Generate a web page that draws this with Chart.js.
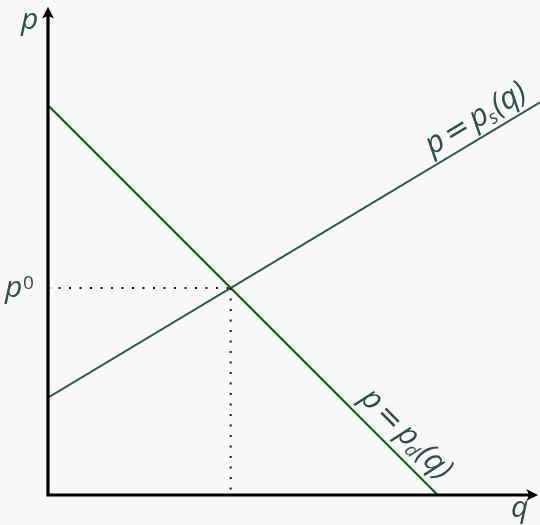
<!DOCTYPE html>
<html>
<head>
<meta charset="utf-8">
<script src="https://cdn.jsdelivr.net/npm/chart.js@4"></script>
<style>
  html, body { margin: 0; padding: 0; background: #f9f9f9; }
  #wrap { width: 540px; height: 525px; }
</style>
</head>
<body>
<div id="wrap"><canvas id="grafico"></canvas></div>
<script>
// curvas de oferta y demanda (unidades del eje)
const demandaQ = [0, 8];
const demandaP = [8, 0];
const ofertaQ = [0, 10.1];
const ofertaP = [2, 8.06];

// equilibrio
const equilibrioQ = 3.75;
const equilibrioP = 4.25;
const guiaHorizQ = [0, equilibrioQ];
const guiaHorizP = [equilibrioP, equilibrioP];
const guiaVertQ = [equilibrioQ, equilibrioQ];
const guiaVertP = [equilibrioP, 0];

const ejeQmax = 10.1;
const ejePmax = 10.16;

const colorTexto = '#2f4f4f';
const fuenteEje = 'italic 30px "Open Sans"';
const fuente = 'italic 31px "Open Sans"';
const fuenteIgual = '30px "DejaVu Sans"';
const fuenteSub = 'italic 19px "Open Sans"';

function puntos(qs, ps) {
    return qs.map((q, i) => ({ x: q, y: ps[i] }));
}

function flecha(ctx, x, y, ang) {
    ctx.save();
    ctx.translate(x, y);
    ctx.rotate(ang);
    ctx.beginPath();
    ctx.moveTo(0, 0);
    ctx.lineTo(-12, -6);
    ctx.quadraticCurveTo(-7, 0, -12, 6);
    ctx.closePath();
    ctx.fill();
    ctx.restore();
}

// texto con subindice a lo largo de una recta
function etiquetaRecta(ctx, partes, cx, cy, ang, offset) {
    ctx.save();
    ctx.translate(cx, cy);
    ctx.rotate(ang);
    let total = 0;
    partes.forEach(p => {
        ctx.font = p.f;
        total += ctx.measureText(p.t).width + (p.gap || 0);
    });
    let x = -total / 2;
    partes.forEach(p => {
        ctx.font = p.f;
        ctx.fillText(p.t, x, -offset + (p.dy || 0));
        x += ctx.measureText(p.t).width + (p.gap || 0);
    });
    ctx.restore();
}

function partesEtiqueta(sub) {
    return [
        { t: 'p', f: fuente, gap: 4 },
        { t: '=', f: fuenteIgual, gap: 4 },
        { t: 'p', f: fuente, gap: -1 },
        { t: sub, f: fuenteSub, dy: 5, gap: 1 },
        { t: '(q)', f: fuente }
    ];
}

const pluginEjes = {
    id: 'ejes',
    afterDatasetsDraw(chart) {
        const ctx = chart.ctx;
        const sx = chart.scales.x;
        const sy = chart.scales.y;
        const x0 = sx.getPixelForValue(0);
        const y0 = sy.getPixelForValue(0);
        const xFin = sx.getPixelForValue(10.06);
        const yFin = sy.getPixelForValue(10.02);

        ctx.save();
        ctx.strokeStyle = '#000';
        ctx.fillStyle = '#000';
        ctx.lineWidth = 3.2;
        ctx.beginPath();
        ctx.moveTo(x0, y0);
        ctx.lineTo(xFin - 6, y0);
        ctx.moveTo(x0, y0 + 1.6);
        ctx.lineTo(x0, yFin + 6);
        ctx.stroke();
        flecha(ctx, xFin, y0, 0);
        flecha(ctx, x0, yFin, -Math.PI / 2);

        ctx.fillStyle = colorTexto;
        ctx.font = fuenteEje;
        ctx.textBaseline = 'alphabetic';
        ctx.textAlign = 'left';
        ctx.fillText('p', 21, 29);
        ctx.fillText('q', 511, 517);

        // p0
        const yEq = sy.getPixelForValue(equilibrioP);
        ctx.fillText('p', 5, yEq + 9);
        ctx.font = '19px "Open Sans"';
        ctx.fillText('0', 23, yEq + 1);

        // etiqueta oferta
        const pendO = (ofertaP[1] - ofertaP[0]) / (ofertaQ[1] - ofertaQ[0]);
        const qO = 8.98;
        const angO = Math.atan2(sy.getPixelForValue(ofertaP[0] + pendO) - sy.getPixelForValue(ofertaP[0]),
                                sx.getPixelForValue(1) - sx.getPixelForValue(0));
        etiquetaRecta(ctx, partesEtiqueta('s'),
            sx.getPixelForValue(qO), sy.getPixelForValue(ofertaP[0] + pendO * qO), angO, 10);

        // etiqueta demanda
        const pendD = (demandaP[1] - demandaP[0]) / (demandaQ[1] - demandaQ[0]);
        const qD = 7.05;
        const angD = Math.atan2(sy.getPixelForValue(demandaP[0] + pendD) - sy.getPixelForValue(demandaP[0]),
                                sx.getPixelForValue(1) - sx.getPixelForValue(0));
        etiquetaRecta(ctx, partesEtiqueta('d'),
            sx.getPixelForValue(qD), sy.getPixelForValue(demandaP[0] + pendD * qD), angD, 12);
        ctx.restore();
    }
};

new Chart(document.getElementById('grafico').getContext('2d'), {
    type: 'line',
    data: {
        datasets: [
            { data: puntos(guiaHorizQ, guiaHorizP), borderColor: '#111', borderWidth: 2, borderDash: [2, 8.5], pointRadius: 0 },
            { data: puntos(guiaVertQ, guiaVertP), borderColor: '#111', borderWidth: 2, borderDash: [2, 8.5], pointRadius: 0 },
            { data: puntos(demandaQ, demandaP), borderColor: '#006400', borderWidth: 2, pointRadius: 0 },
            { data: puntos(ofertaQ, ofertaP), borderColor: '#2f5757', borderWidth: 2, pointRadius: 0 }
        ]
    },
    options: {
        responsive: true,
        maintainAspectRatio: false,
        animation: false,
        layout: { padding: { left: 48, right: 0, top: 0, bottom: 30 } },
        plugins: { legend: { display: false }, tooltip: { enabled: false } },
        scales: {
            x: { type: 'linear', min: 0, max: ejeQmax, display: false },
            y: { type: 'linear', min: 0, max: ejePmax, display: false }
        }
    },
    plugins: [pluginEjes]
});
</script>
</body>
</html>
